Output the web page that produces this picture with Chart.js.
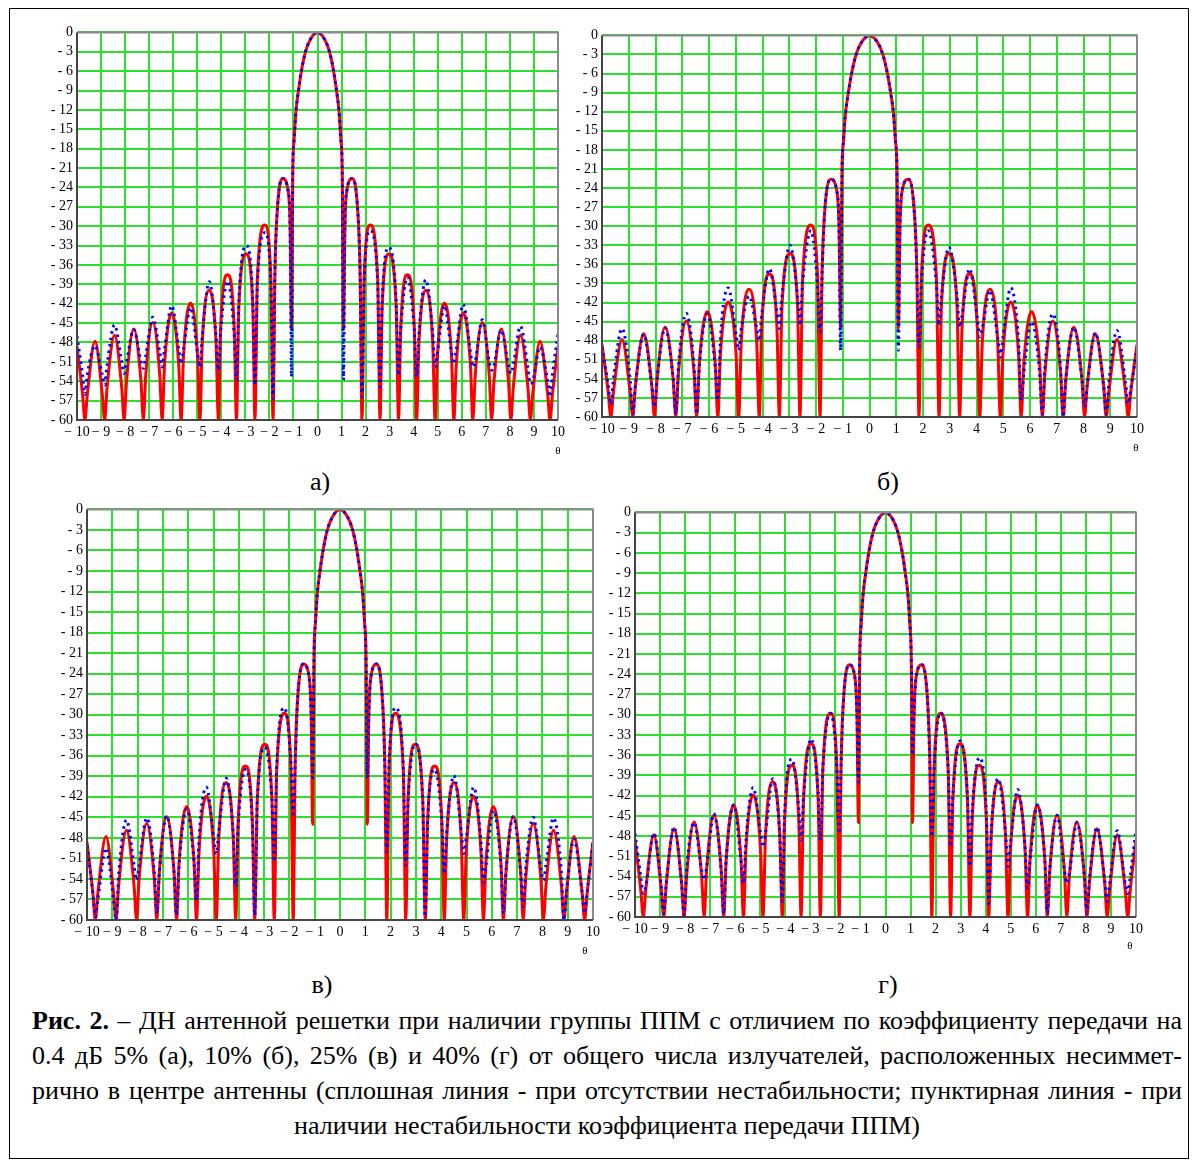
<!DOCTYPE html>
<html>
<head>
<meta charset="utf-8">
<script src="https://cdn.jsdelivr.net/npm/chart.js@4.4.0/dist/chart.umd.min.js"></script>
<style>
  body { margin:0; background:#fff; width:1194px; height:1162px; position:relative; overflow:hidden;
         font-family:"Liberation Serif", "Times New Roman", serif; color:#000; }
  .frame { position:absolute; left:9px; top:8px; width:1180px; height:1151px; border:1px solid #000; box-sizing:border-box; }
  canvas { position:absolute; }
  .lbl { position:absolute; font-size:26px; transform:translate(-50%,-50%); white-space:nowrap; }
  .theta { position:absolute; font-size:11px; transform:translate(-50%,-50%); }
  .caption { position:absolute; left:32px; width:1150px; top:1003px; font-size:26px; line-height:35px; }
  .caption div { text-align:justify; text-align-last:justify; white-space:nowrap; }
  .caption div.last { text-align:center; text-align-last:center; }
</style>
</head>
<body>
<div class="frame"></div>
<div class="caption">
  <div><b>Рис. 2.</b> – ДН антенной решетки при наличии группы ППМ с отличием по коэффициенту передачи на</div>
  <div>0.4 дБ 5% (а), 10% (б), 25% (в) и 40% (г) от общего числа излучателей, расположенных несиммет-</div>
  <div>рично в центре антенны (сплошная линия - при отсутствии нестабильности; пунктирная линия - при</div>
  <div class="last">наличии нестабильности коэффициента передачи ППМ)</div>
</div>
<script>
// θ samples of the right half (0..10); the left half is the mirror image
const thetaHalf = [0, 0.3, 0.5, 0.67, 0.79, 0.89, 0.97, 1.03, 1.08,
  1.14, 1.22, 1.45, 1.68, 1.77, 1.85,
  1.94, 2.19, 2.50, 2.60,
  2.69, 2.97, 3.27, 3.37,
  3.46, 3.74, 4.03, 4.12,
  4.22, 4.50, 4.79, 4.89,
  4.99, 5.28, 5.57, 5.67,
  5.77, 6.06, 6.36, 6.46,
  6.56, 6.85, 7.14, 7.24,
  7.34, 7.64, 7.94, 8.04,
  8.14, 8.44, 8.75, 8.85,
  8.95, 9.25, 9.57, 9.67,
  9.77, 10];

// solid red line: pattern without instability (symmetric, same in all panels)
const idealHalf = [0, -1.1, -3, -6, -9, -12, -16.5, -22, -46,
  -30, -24.5, -22.6, -28, -37, -60,
  -38, -29.8, -38, -60,
  -42.5, -34.3, -42.5, -60,
  -46, -37.5, -46, -60,
  -48, -39.9, -48, -60,
  -50, -41.9, -50, -60,
  -51.5, -43.4, -51.5, -60,
  -53, -44.9, -53, -60,
  -54, -45.9, -54, -60,
  -55, -46.9, -55, -60,
  -56, -47.8, -56, -60,
  -56, -48.6];

// dotted blue line: with instability. Left = θ -10..-0.3, right = θ 0.3..10
const unstableALeft = [-47, -53, -56,
  -53, -48.5, -53, -54.6,  -51.5, -45.3, -51, -52.8,  -51, -46, -51, -52,
  -50, -44.1, -49.5, -51.8,  -49, -42.3, -49, -51.3,  -49, -42.6, -49.5, -51.8,
  -47, -38.6, -47, -52.3,  -46.5, -38.5, -47, -53.8,  -41.5, -33, -41.5, -54.6,
  -39, -31, -39, -56.7,
  -37, -28, -22.6, -24.5, -30, -53.3,
  -22, -16.5, -12, -9, -6, -3, -1.1];
const unstableARight = [-1.1, -3, -6, -9, -12, -16.5, -22, -53.8,
  -30, -24.5, -22.6, -28, -37, -56.4,
  -38.5, -30.7, -38.5, -54.9,  -41.5, -33.3, -41.5, -53.1,  -46, -37.9, -46.5, -53.3,
  -46.5, -38.3, -46.5, -51.8,  -49.5, -42.3, -49.5, -51.3,  -49, -42.1, -49.5, -51.8,
  -51, -44.5, -51, -52.3,  -51.5, -46.1, -51.5, -52.8,  -51.5, -45.5, -52, -54.4,
  -54, -48.7, -54, -56.4,
  -53, -46.6];

const unstableBLeft = [-49, -55, -58,
  -54, -46.1, -54, -59.5,  -55, -47, -55, -58.4,  -54, -46, -54, -59.5,
  -52, -43.7, -52, -59.5,  -52, -43.8, -52, -57.4,  -47.5, -39.7, -47, -49.5,
  -46, -41, -46, -48,  -44, -36.7, -43.5, -46.1,  -41, -33, -41, -45.6,
  -39, -30.7, -39.5, -46.6,
  -37, -28, -22.6, -24.5, -30, -49.5,
  -22, -16.5, -12, -9, -6, -3, -1.1];
const unstableBRight = [-1.1, -3, -6, -9, -12, -16.5, -22, -49.5,
  -30, -24.5, -22.6, -28, -37, -49,
  -39, -30.7, -39, -45.6,  -41, -33.3, -41, -45.9,  -44, -36.7, -44.5, -47.4,
  -46, -40.1, -47.5, -50.6,  -47.5, -39.7, -48, -57.4,  -53, -45, -53, -59.5,
  -52, -43.8, -52, -60,  -54, -45.9, -54, -58.4,  -55, -46.8, -55, -59.5,
  -54.5, -46.4, -54.5, -57.9,
  -55.5, -49.2];

const unstableCLeft = [-49.1, -56, -59.5,
  -57, -49.5, -57, -60,  -53.5, -45.4, -52, -54.2,  -52, -45.1, -53, -59,
  -53, -44.8, -53, -59.3,  -52, -43.8, -51.5, -57.1,  -48, -40.6, -48, -50.3,
  -47, -39.3, -47.5, -55.2,  -46.5, -38, -46.5, -59.3,  -43, -34.8, -42.5, -51.5,
  -37.5, -29, -37, -44.5,
  -37, -28, -22.6, -24.5, -30, -39.2,
  -22, -16.5, -12, -9, -6, -3, -1.1];
const unstableCRight = [-1.1, -3, -6, -9, -12, -16.5, -22, -39.2,
  -30, -24.5, -22.6, -28, -37, -50,
  -37, -29, -37.5, -52,  -42.5, -34.3, -42.5, -60,  -46, -38, -46, -53.2,
  -47, -38.9, -47, -50.3,  -48, -40.6, -48.5, -54.5,  -52, -44, -52, -59,
  -53, -44.9, -53, -58,  -52.5, -45, -52.5, -54.2,  -52, -45.1, -53, -60,
  -56, -48.2, -56, -59,
  -56, -48.4];

const unstableDLeft = [-47.6, -54, -56.5,
  -55.5, -47.6, -55.5, -59.5,  -55, -46.7, -55, -59.7,  -53, -46, -53, -54.5,
  -52.5, -44.7, -53, -59.5,  -51.5, -43.4, -51.5, -55,  -48.5, -40.8, -47.5, -49.6,
  -47.5, -39.5, -48, -57.7,  -45, -36.6, -44, -48.6,  -42, -33.6, -41.5, -48.6,
  -38, -29.8, -38, -47.6,
  -37, -28, -22.6, -24.5, -30, -40,
  -22, -16.5, -12, -9, -6, -3, -1.1];
const unstableDRight = [-1.1, -3, -6, -9, -12, -16.5, -22, -36,
  -30, -24.5, -22.6, -28, -37, -48.1,
  -38, -29.7, -38, -49.6,  -42, -33.9, -42, -52.5,  -44.5, -36.4, -45, -58,
  -47.5, -39.5, -47.5, -52.5,  -49, -41.1, -49.5, -55.7,  -51.5, -43.4, -51.5, -59.4,
  -53, -44.9, -53, -55,  -53.5, -46, -54, -59.4,  -54.5, -46.7, -54.5, -57.7,
  -55, -47.2, -55, -56.5,
  -54, -47.1];

const xTickLabels = ['\u2212 10', '\u2212 9', '\u2212 8', '\u2212 7', '\u2212 6', '\u2212 5', '\u2212 4',
  '\u2212 3', '\u2212 2', '\u2212 1', '0', '1', '2', '3', '4', '5', '6', '7', '8', '9', '10'];
const yTickLabels = ['0', '- 3', '- 6', '- 9', '- 12', '- 15', '- 18', '- 21', '- 24', '- 27', '- 30',
  '- 33', '- 36', '- 39', '- 42', '- 45', '- 48', '- 51', '- 54', '- 57', '- 60'];
const panelLetters = ['а)', 'б)', 'в)', 'г)'];

// ------------------------
// build
// ------------------------
const theta = thetaHalf.slice(1).map(t => -t).reverse().concat(thetaHalf);
const ideal = idealHalf.slice(1).reverse().concat(idealHalf);

const panels = [
  { box: [77, 30, 558, 420],   blue: unstableALeft.concat([0], unstableARight), letter: [320, 482], th: [558, 450] },
  { box: [602, 33, 1137, 417], blue: unstableBLeft.concat([0], unstableBRight), letter: [888, 482], th: [1136, 447] },
  { box: [87, 507, 593, 920],  blue: unstableCLeft.concat([0], unstableCRight), letter: [322, 985], th: [585, 950] },
  { box: [635, 510, 1136, 917], blue: unstableDLeft.concat([0], unstableDRight), letter: [888, 985], th: [1130, 945] }
];

Chart.defaults.font.family = '"Liberation Serif", "Times New Roman", serif';
Chart.defaults.color = '#000';

const framePlugin = {
  id: 'frame',
  afterDatasetsDraw(chart) {
    const a = chart.chartArea, ctx = chart.ctx;
    ctx.save();
    ctx.lineWidth = 2;
    ctx.strokeStyle = '#8a8a8a';
    ctx.beginPath();
    ctx.moveTo(a.left, a.top); ctx.lineTo(a.right, a.top); ctx.lineTo(a.right, a.bottom);
    ctx.stroke();
    ctx.strokeStyle = '#444';
    ctx.beginPath();
    ctx.moveTo(a.left, a.top); ctx.lineTo(a.left, a.bottom); ctx.lineTo(a.right, a.bottom);
    ctx.stroke();
    ctx.restore();
  }
};

function addText(cls, txt, x, y) {
  const d = document.createElement('div');
  d.className = cls;
  d.textContent = txt;
  d.style.left = x + 'px';
  d.style.top = y + 'px';
  document.body.appendChild(d);
}

panels.forEach((p, i) => {
  const [x0, y0, x1, y1] = p.box;
  const padL = 45, padT = 10, padR = 16, padB = 30;
  const cv = document.createElement('canvas');
  cv.width = x1 - x0 + padL + padR;
  cv.height = y1 - y0 + padT + padB;
  cv.style.left = (x0 - padL) + 'px';
  cv.style.top = (y0 - padT) + 'px';
  document.body.appendChild(cv);

  const grid = { color: '#2ee02e', lineWidth: 2, drawTicks: false };
  new Chart(cv, {
    type: 'line',
    data: {
      datasets: [
        { data: theta.map((t, k) => ({ x: t, y: p.blue[k] })), borderColor: '#0000ff', borderWidth: 3,
          borderDash: [2.5, 4], pointRadius: 0, cubicInterpolationMode: 'monotone' },
        { data: theta.map((t, k) => ({ x: t, y: ideal[k] })), borderColor: '#ff0000', borderWidth: 3,
          pointRadius: 0, cubicInterpolationMode: 'monotone' }
      ]
    },
    options: {
      responsive: false, animation: false, devicePixelRatio: 1,
      layout: { padding: { top: padT, right: padR, left: 0, bottom: 0 } },
      plugins: { legend: { display: false }, tooltip: { enabled: false } },
      scales: {
        x: {
          type: 'linear', min: -10, max: 10,
          afterFit: s => { s.height = padB; },
          ticks: { stepSize: 1, autoSkip: false, maxRotation: 0, padding: 4, font: { size: 14 },
                   callback: v => xTickLabels[Math.round(v) + 10] },
          grid: grid, border: { display: false }
        },
        y: {
          min: -60, max: 0,
          afterFit: s => { s.width = padL; },
          ticks: { stepSize: 3, autoSkip: false, padding: 4, font: { size: 14 },
                   callback: v => yTickLabels[Math.round(-v / 3)] },
          grid: grid, border: { display: false }
        }
      }
    },
    plugins: [framePlugin]
  });

  addText('lbl', panelLetters[i], p.letter[0], p.letter[1]);
  addText('theta', 'θ', p.th[0], p.th[1]);
});
</script>
</body>
</html>
